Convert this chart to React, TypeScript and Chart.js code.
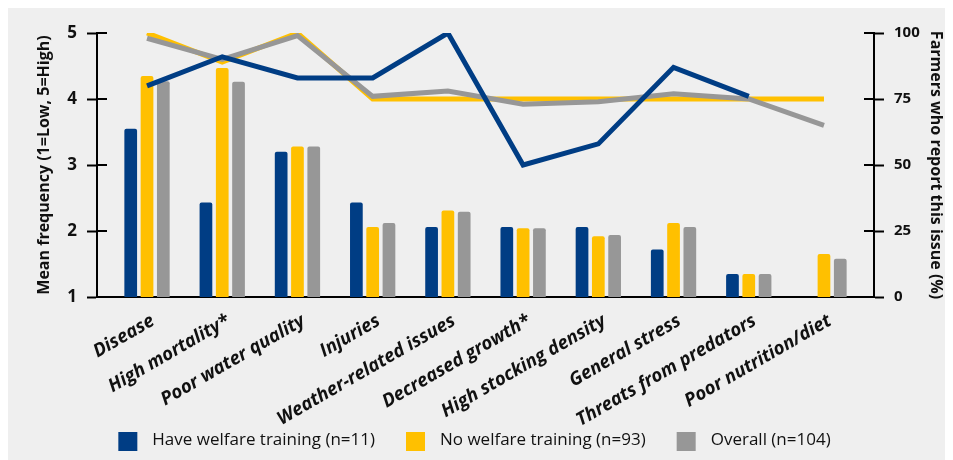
import React, { useEffect, useRef } from "react";
import { Chart, registerables } from "chart.js";

Chart.register(...registerables);

const categories = [
  "Disease",
  "High mortality*",
  "Poor water quality",
  "Injuries",
  "Weather-related issues",
  "Decreased growth*",
  "High stocking density",
  "General stress",
  "Threats from predators",
  "Poor nutrition/diet",
];

// Mean frequency (bars, left axis)
const welfareMean = [3.55, 2.43, 3.2, 2.43, 2.06, 2.06, 2.06, 1.72, 1.35, null];
const noWelfareMean = [4.35, 4.47, 3.28, 2.06, 2.31, 2.04, 1.92, 2.12, 1.35, 1.65];
const overallMean = [4.27, 4.26, 3.28, 2.12, 2.29, 2.04, 1.94, 2.06, 1.35, 1.58];

// Farmers who report this issue, % (lines, right axis)
const welfarePct = [80, 91, 83, 83, 100, 50, 58, 87, 76, null];
const noWelfarePct = [100, 89, 100, 75, 75, 75, 75, 75, 75, 75];
const overallPct = [98, 90, 99, 76, 78, 73, 74, 77, 75, 65];

const leftTicks = [1, 2, 3, 4, 5];
const rightTicks = [0, 25, 50, 75, 100];

const seriesNames = [
  "Have welfare training (n=11)",
  "No welfare training (n=93)",
  "Overall (n=104)",
];

const BLUE = "#003d84";
const YELLOW = "#ffc000";
const GREY = "#979797";
const FONT = "'Open Sans'";

const toPoints = (arr: (number | null)[]) => arr.map((v, i) => ({ x: i, y: v }));

const innerTicks = {
  id: "innerTicks",
  afterDraw(chart: any) {
    const ctx = chart.ctx;
    const area = chart.chartArea;
    ctx.save();
    ctx.strokeStyle = "#000";
    ctx.lineWidth = 2;
    [
      ["y", area.left, 1],
      ["y1", area.right, -1],
    ].forEach(([id, x, dir]: any) => {
      const s = chart.scales[id];
      s.ticks.forEach((t: any) => {
        const py = s.getPixelForValue(t.value);
        ctx.beginPath();
        ctx.moveTo(x, py);
        ctx.lineTo(x + dir * 10, py);
        ctx.stroke();
      });
    });
    ctx.restore();
  },
};

const customLegend = {
  id: "customLegend",
  afterDraw(chart: any) {
    const ctx = chart.ctx;
    const ds = chart.data.datasets.slice(0, 3);
    ctx.save();
    ctx.font = `17px ${FONT}`;
    const box = 19;
    const gap = 15;
    const spacing = 31;
    const widths = ds.map((d: any) => box + gap + ctx.measureText(d.label).width);
    const total = widths.reduce((a: number, b: number) => a + b, 0) + spacing * (ds.length - 1);
    let x = chart.width / 2 - total / 2 - 6;
    const cy = chart.height - 20;
    ds.forEach((d: any, i: number) => {
      ctx.fillStyle = d.backgroundColor;
      ctx.fillRect(x, cy - box / 2 + 1.5, box, box);
      ctx.fillStyle = "#111";
      ctx.textBaseline = "middle";
      ctx.textAlign = "left";
      ctx.fillText(d.label, x + box + gap, cy);
      x += widths[i] + spacing;
    });
    ctx.restore();
  },
};

export default function App() {
  const ref = useRef<HTMLCanvasElement | null>(null);

  useEffect(() => {
    if (!ref.current) return;
    Chart.defaults.font.family = FONT;
    const barCommon = {
      type: "bar" as const,
      yAxisID: "y",
      borderWidth: 0,
      borderRadius: { topLeft: 2, topRight: 2, bottomLeft: 0, bottomRight: 0 },
      borderSkipped: "bottom" as const,
      barPercentage: 0.78,
      categoryPercentage: 0.65,
    };
    const lineCommon = {
      type: "line" as const,
      yAxisID: "y1",
      borderWidth: 5,
      pointRadius: 0,
      fill: false,
      tension: 0,
      borderJoinStyle: "miter" as const,
      spanGaps: false,
    };
    const chart = new Chart(ref.current, {
      data: {
        datasets: [
          { ...barCommon, label: seriesNames[0], data: toPoints(welfareMean) as any, backgroundColor: BLUE, order: 3 },
          { ...barCommon, label: seriesNames[1], data: toPoints(noWelfareMean) as any, backgroundColor: YELLOW, order: 4 },
          { ...barCommon, label: seriesNames[2], data: toPoints(overallMean) as any, backgroundColor: GREY, order: 5 },
          { ...lineCommon, label: seriesNames[0] + " %", data: toPoints(welfarePct) as any, borderColor: BLUE, backgroundColor: BLUE, order: 0 },
          { ...lineCommon, label: seriesNames[2] + " %", data: toPoints(overallPct) as any, borderColor: GREY, backgroundColor: GREY, order: 1 },
          { ...lineCommon, label: seriesNames[1] + " %", data: toPoints(noWelfarePct) as any, borderColor: YELLOW, backgroundColor: YELLOW, order: 2 },
        ],
      } as any,
      options: {
        animation: false,
        responsive: true,
        maintainAspectRatio: false,
        layout: { padding: { top: 25, left: 0, right: 0, bottom: 35 } },
        plugins: {
          tooltip: { enabled: false },
          legend: { display: false },
        },
        scales: {
          x: {
            type: "linear",
            offset: false,
            min: -0.665,
            max: 9.665,
            afterBuildTicks: (scale: any) => {
              scale.ticks = categories.map((_, i) => ({ value: i }));
            },
            afterFit: (scale: any) => {
              scale.height = 128;
            },
            grid: { display: false, drawTicks: true, tickLength: 8 },
            border: { display: true, color: "#000", width: 2 },
            ticks: {
              autoSkip: false,
              includeBounds: false,
              maxRotation: 30,
              minRotation: 30,
              padding: 5,
              labelOffset: 6,
              color: "#111",
              font: { size: 18.5, weight: "bold", style: "italic", family: FONT },
              callback: (v: any) => categories[v as number] ?? "",
            },
          },
          y: {
            position: "left",
            min: 1,
            max: 5,
            afterBuildTicks: (scale: any) => {
              scale.ticks = leftTicks.map((v) => ({ value: v }));
            },
            afterFit: (scale: any) => {
              scale.width = 89;
            },
            grid: {
              display: true,
              drawOnChartArea: false,
              drawTicks: true,
              tickLength: 10,
              tickWidth: 2,
              tickColor: "#000",
            },
            border: { display: true, color: "#000", width: 2 },
            ticks: {
              padding: 10,
              color: "#111",
              font: { size: 17, weight: "bold", family: FONT },
            },
            title: {
              display: true,
              text: "Mean frequency (1=Low, 5=High)",
              color: "#111",
              font: { size: 16, weight: "bold", family: FONT },
              padding: { top: 27, bottom: 0 },
            },
          },
          y1: {
            position: "right",
            min: 0,
            max: 100,
            afterBuildTicks: (scale: any) => {
              scale.ticks = rightTicks.map((v) => ({ value: v }));
            },
            afterFit: (scale: any) => {
              scale.width = 79;
            },
            grid: {
              display: true,
              drawOnChartArea: false,
              drawTicks: true,
              tickLength: 10,
              tickWidth: 2,
              tickColor: "#000",
            },
            border: { display: true, color: "#000", width: 2 },
            ticks: {
              padding: 10,
              color: "#111",
              font: { size: 15, weight: "bold", family: FONT },
            },
            title: {
              display: true,
              text: "Farmers who report this issue (%)",
              color: "#111",
              font: { size: 16, weight: "bold", family: FONT },
              padding: { top: 8, bottom: 0 },
            },
          },
        },
      } as any,
      plugins: [innerTicks, customLegend],
    });
    return () => chart.destroy();
  }, []);

  return (
    <div style={{ width: 945, height: 452, background: "#efefef", position: "relative" }}>
      <canvas ref={ref} />
    </div>
  );
}
